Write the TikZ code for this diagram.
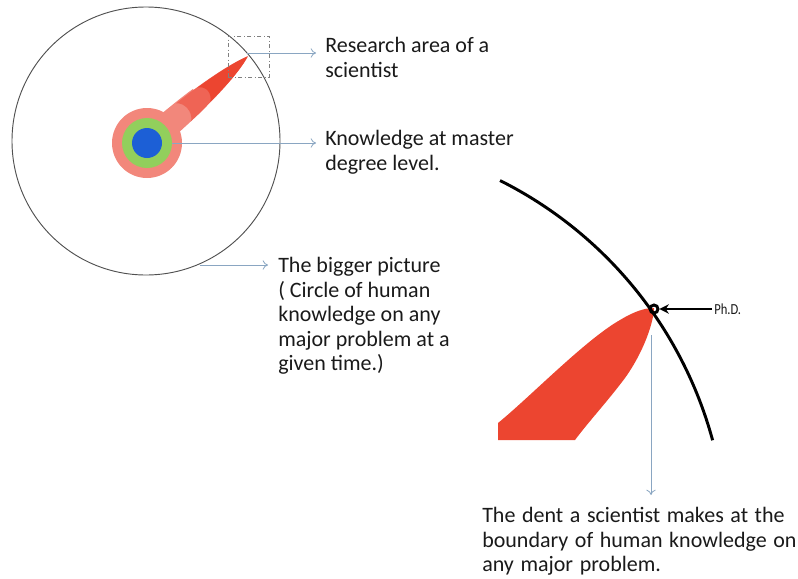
\documentclass[tikz,border=0pt]{standalone}
\usepackage{fontspec}
\setmainfont{Carlito}
\usetikzlibrary{arrows.meta}
\definecolor{dentred}{HTML}{EC4530}
\definecolor{lightred}{HTML}{EF6455}
\definecolor{ringpink}{HTML}{F2877B}
\definecolor{ringgreen}{HTML}{92CF5C}
\definecolor{coreblue}{HTML}{1C5FD6}
\definecolor{arrowgray}{HTML}{8AA6C2}
\definecolor{circgray}{HTML}{505050}
\definecolor{txt}{HTML}{1A1A1A}
\newcommand\dentfont{\fontsize{16.5}{18.4}\selectfont\spaceskip=0.3em plus 0.1em minus 0.05em\relax}
\tikzset{
  pointer/.style={draw=arrowgray, line width=0.6pt, -{To[length=4pt,width=7pt]}},
  label/.style={anchor=north west, inner sep=0pt, align=left, text=txt,
    font=\fontsize{16.5}{18.4}\selectfont},
}
\begin{document}
\begin{tikzpicture}[x=0.75pt,y=-0.75pt]
\useasboundingbox (0,0) rectangle (798,578);
% big circle
\node[draw=circgray, line width=0.7pt, circle, minimum size=201pt, inner sep=0pt] (big) at (146,141) {};
% spike
\begin{scope}[shift={(147,143)}, rotate=40.7]
  \fill[ringpink] (20,13) .. controls (40,12.5) and (60,12) .. (70,11) -- (70,-11) .. controls (60,-12) and (40,-12.5) .. (20,-13) -- cycle;
  \fill[lightred] (48,12) .. controls (80,11) and (115,7) .. (133,0) .. controls (115,-6) and (80,-10) .. (48,-11) .. controls (55,-6) and (55,6) .. (48,12) -- cycle;
  \fill[dentred] (75,10) .. controls (100,8) and (120,5) .. (133,0) .. controls (120,-4) and (100,-7) .. (75,-9) .. controls (82,-4) and (82,4) .. (75,10) -- cycle;
\end{scope}
\node[circle, fill=ringpink, minimum size=52.5pt, inner sep=0pt] (pinkring) at (147,143) {};
\node[circle, fill=ringgreen, minimum size=37.5pt, inner sep=0pt] (greenring) at (147,143) {};
\node[circle, fill=coreblue, minimum size=22.5pt, inner sep=0pt] (core) at (147,143) {};
% research area box
\node[draw=gray, line width=0.5pt, dash dot, minimum width=30.75pt, minimum height=30.75pt, inner sep=0pt] (areabox) at (248.5,56.5) {};
\coordinate (tip) at (247,53);
\coordinate (corecenter) at (172,143);
\coordinate (bigedge) at (200,265);
% labels
\node[label] (lresearch) at (325,37) {Research area of a\\scientist};
\node[label] (lmaster) at (325,130) {Knowledge at master\\degree level.};
\node[label] (lbigger) at (278,257) {The bigger picture\\( Circle of human\\knowledge on any\\major problem at a\\given time.)};
\draw[pointer] (tip) -- (316,53) coordinate (a1);
\draw[pointer] (corecenter) -- (316,143) coordinate (a2);
\draw[pointer] (bigedge) -- (268,265) coordinate (a3);
% right part: dent
\fill[dentred] (498,423) .. controls (530,397) and (585,340) .. (620,320) .. controls (635,311) and (645,308) .. (654,308)
  .. controls (654,320) and (645,350) .. (625,378) .. controls (607,402) and (590,420) .. (575,440) -- (498,440) -- cycle;
\draw[black, line width=2.2pt] ([shift={(316,548)}]63.4:308.25pt) arc[start angle=63.4, end angle=15.2, radius=308.25pt];
\node[circle, draw=black, line width=2.2pt, minimum size=6pt, inner sep=0pt] (blob) at (654,309) {};
\node[anchor=west, inner sep=0pt, font=\fontsize{11.5}{12}\selectfont\addfontfeatures{FakeStretch=0.82}, text=txt] (phd) at (714,309) {Ph.D.};
\draw[black, line width=1.3pt, -{Stealth[length=7pt,width=7pt]}] (phd.west) ++(-2,0) -- (blob.east);
\coordinate (dentbelow) at (651,335);
\node[label, font=\dentfont] (ldent) at (482,507) {The dent a scientist makes at the\\boundary of human knowledge on\\any major problem.};
\draw[pointer] (dentbelow) -- (651,495);
\end{tikzpicture}
\end{document}
